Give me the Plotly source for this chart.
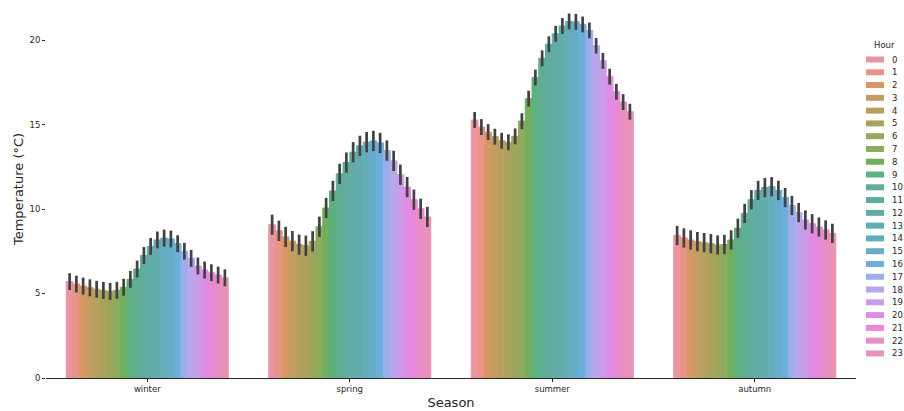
import colorsys
import math

import numpy as np
import plotly.graph_objects as go

# Mean temperature per hour of day, grouped by season
seasons = ["winter", "spring", "summer", "autumn"]
hours = list(range(24))

winter = [5.70, 5.56, 5.44, 5.34, 5.25, 5.18, 5.13, 5.19, 5.37, 5.84, 6.45, 7.25,
          7.79, 8.17, 8.28, 8.23, 7.95, 7.50, 7.08, 6.63, 6.39, 6.23, 6.09, 5.93]
spring = [9.07, 8.71, 8.35, 8.10, 7.89, 7.83, 8.09, 8.95, 10.06, 11.07, 12.08, 12.75,
          13.36, 13.74, 13.96, 14.03, 13.91, 13.46, 12.85, 12.03, 11.30, 10.55, 10.01, 9.53]
summer = [15.27, 14.85, 14.55, 14.28, 14.04, 13.95, 14.30, 15.20, 16.53, 17.78, 18.92, 19.75,
          20.37, 20.83, 21.10, 21.08, 20.92, 20.57, 19.66, 18.77, 17.83, 16.94, 16.33, 15.76]
autumn = [8.43, 8.29, 8.17, 8.07, 8.01, 7.95, 7.87, 7.90, 8.17, 8.86, 9.74, 10.55,
          11.10, 11.27, 11.32, 11.10, 10.68, 10.21, 9.79, 9.35, 9.13, 8.93, 8.76, 8.56]

# Half-width of the 95% confidence interval for each season
ci_half = [0.50, 0.60, 0.47, 0.57]

y_ticks = [0, 5, 10, 15, 20]

season_means = [winter, spring, summer, autumn]


# --- HUSL palette (as used by seaborn for many hue levels) ---
_M = [[3.2406, -1.5372, -0.4986],
      [-0.9689, 1.8758, 0.0415],
      [0.0557, -0.2040, 1.0570]]
_REF_Y = 1.0
_REF_U = 0.19784
_REF_V = 0.46834
_KAPPA = 903.2962962
_EPS = 0.0088564516


def _max_chroma(L, H):
    hrad = math.radians(H)
    sinH, cosH = math.sin(hrad), math.cos(hrad)
    sub1 = (L + 16) ** 3 / 1560896.0
    sub2 = sub1 if sub1 > _EPS else L / _KAPPA
    result = float("inf")
    for m1, m2, m3 in _M:
        top = (0.99915 * m1 + 1.05122 * m2 + 1.14460 * m3) * sub2
        rbottom = 0.86330 * m3 - 0.17266 * m2
        lbottom = 0.12949 * m3 - 0.38848 * m1
        bottom = (rbottom * sinH + lbottom * cosH) * sub2
        for t in (0.0, 1.0):
            C = L * (top - 1.05122 * t) / (bottom + 0.17266 * sinH * t)
            if 0 < C < result:
                result = C
    return result


def _from_linear(c):
    if c <= 0.0031308:
        return 12.92 * c
    return 1.055 * c ** (1 / 2.4) - 0.055


def husl_to_rgb(h, s, l):
    C = _max_chroma(l, h) / 100.0 * s
    hrad = math.radians(h)
    U, V = math.cos(hrad) * C, math.sin(hrad) * C
    varY = _REF_Y * ((l + 16) / 116.0) ** 3 if l > 8 else _REF_Y * l / _KAPPA
    varU = U / (13 * l) + _REF_U
    varV = V / (13 * l) + _REF_V
    Y = varY * _REF_Y
    X = -(9 * Y * varU) / ((varU - 4) * varV - varU * varV)
    Z = (9 * Y - 15 * varV * Y - varV * X) / (3 * varV)
    rgb = [_from_linear(m[0] * X + m[1] * Y + m[2] * Z) for m in _M]
    return [min(max(c, 0.0), 1.0) for c in rgb]


def desaturate(rgb, prop):
    h, l, s = colorsys.rgb_to_hls(*rgb)
    return colorsys.hls_to_rgb(h, l, s * prop)


def lighten(rgb, alpha):
    # composite over a white background
    return [alpha * c + (1 - alpha) for c in rgb]


def to_hex(rgb):
    return "#" + "".join(f"{int(round(c * 255)):02x}" for c in rgb)


hue_vals = (np.linspace(0, 1, len(hours) + 1)[:-1] + 0.01) % 1 * 359
palette = [to_hex(lighten(desaturate(husl_to_rgb(h, 0.9 * 99, 0.65 * 99), 0.75), 0.85))
           for h in hue_vals]

TEXT = "#262626"
FONT = "DejaVu Sans"

fig = go.Figure()
for h in hours:
    fig.add_trace(go.Bar(
        x=seasons,
        y=[vals[h] for vals in season_means],
        name=str(h),
        marker=dict(color=palette[h], line=dict(width=1, color=palette[h])),
        error_y=dict(type="data", array=ci_half, color="#424242",
                     thickness=2.7, width=0),
        showlegend=False,
    ))

# Layout geometry (pixels)
W, H = 904, 411
ML, MR, MT, MB = 46, 48, 0, 33
PW, PH = W - ML - MR, H - MT - MB


def px_x(p):
    return (p - ML) / PW


def px_y(p):
    return (H - MB - p) / PH


# Hand-built legend: swatch + label for each hour
shapes, annotations = [], []
annotations.append(dict(x=px_x(884), y=px_y(45), xref="paper", yref="paper",
                        text="Hour", showarrow=False, xanchor="center",
                        yanchor="middle", font=dict(size=8.5, color=TEXT, family=FONT)))
for i, h in enumerate(hours):
    yc = 59.5 + i * 12.78
    shapes.append(dict(type="rect", xref="paper", yref="paper",
                       x0=px_x(866), x1=px_x(884), y0=px_y(yc + 3), y1=px_y(yc - 3),
                       fillcolor=palette[h], line=dict(width=0)))
    annotations.append(dict(x=px_x(890), y=px_y(yc), xref="paper", yref="paper",
                            text=str(h), showarrow=False, xanchor="left",
                            yanchor="middle", font=dict(size=8.5, color=TEXT, family=FONT)))

fig.update_layout(
    width=W, height=H,
    margin=dict(l=ML, r=MR, t=MT, b=MB, pad=0),
    paper_bgcolor="white", plot_bgcolor="white",
    barmode="group", bargap=0.2, bargroupgap=0,
    font=dict(family=FONT, color=TEXT, size=8.5),
    shapes=shapes, annotations=annotations,
    xaxis=dict(
        showline=True, linecolor=TEXT, linewidth=1,
        ticks="outside", ticklen=3, tickcolor=TEXT, tickwidth=1,
        tickfont=dict(size=8.5, color=TEXT),
        showgrid=False, zeroline=False,
        title=dict(text="Season", font=dict(size=13, color=TEXT), standoff=4),
    ),
    yaxis=dict(
        range=[0, 22.37], tickvals=y_ticks,
        showline=False, showgrid=False, zeroline=False,
        ticks="outside", ticklen=3, tickcolor=TEXT, tickwidth=1,
        tickfont=dict(size=8.5, color=TEXT),
        title=dict(text="Temperature (°C)", font=dict(size=13, color=TEXT), standoff=2),
    ),
)

fig.write_html("out.html")
